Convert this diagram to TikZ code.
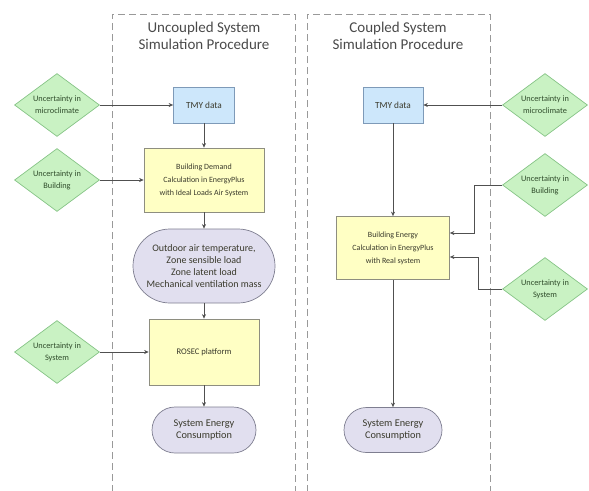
\documentclass[tikz,border=0pt]{standalone}
\usepackage{fontspec}
\setmainfont{Carlito}
\usetikzlibrary{shapes.geometric,arrows.meta}
\definecolor{dfill}{HTML}{C9F2C3}
\definecolor{ddraw}{HTML}{86C486}
\definecolor{dtxt}{HTML}{304D2C}
\definecolor{yfill}{HTML}{FFFFC4}
\definecolor{ydraw}{HTML}{8E8E80}
\definecolor{bfill}{HTML}{CDE7FB}
\definecolor{bdraw}{HTML}{7E9AB8}
\definecolor{ofill}{HTML}{E1DFEF}
\definecolor{odraw}{HTML}{7E7E90}
\definecolor{ltxt}{HTML}{3A3A2C}
\definecolor{ttxt}{HTML}{4A4A4A}
\definecolor{lcol}{HTML}{505050}
\tikzset{
  x=1pt, y=-1pt,
  dashbox/.style={draw=gray!80, line width=0.9pt, dash pattern=on 7pt off 4pt},
  titletext/.style={font=\fontsize{15}{17}\selectfont, text=ttxt, align=center},
  diam/.style={diamond, draw=ddraw, fill=dfill, line width=0.7pt, inner sep=0pt, minimum width=85pt, minimum height=63pt},
  dtext/.style={font=\fontsize{8.3}{12}\selectfont, text=dtxt, align=center, inner sep=0pt},
  ybox/.style={rectangle, draw=ydraw, fill=yfill, line width=0.7pt, font=\fontsize{8}{13}\selectfont, text=ltxt, align=center, inner sep=0pt},
  bbox/.style={rectangle, draw=bdraw, fill=bfill, line width=0.7pt, font=\fontsize{9.3}{10}\selectfont, text=ltxt, align=center, inner sep=0pt, minimum width=61pt, minimum height=36pt},
  oval/.style={rectangle, draw=odraw, fill=ofill, line width=0.7pt, text=ltxt, align=center, inner sep=0pt},
  conn/.style={draw=lcol, line width=0.7pt, -{Stealth[length=4.5pt,width=4pt]}},
}
\begin{document}
\begin{tikzpicture}
\useasboundingbox (0,0) rectangle (589,490);
% swimlanes
\draw[dashbox] (112,492) -- (112,14) -- (295,14) -- (295,492);
\draw[dashbox] (307,492) -- (307,14) -- (490,14) -- (490,492);
\node[titletext] (tl) at (204,36) {Uncoupled System\\Simulation Procedure};
\node[titletext] (tr) at (398,36) {Coupled System\\Simulation Procedure};

% left column
\node[bbox] (tmyL) at (204,105) {TMY data};
\node[ybox, minimum width=120pt, minimum height=64pt] (bdL) at (204,180) {Building Demand\\Calculation in EnergyPlus\\with Ideal Loads Air System};
\node[oval, minimum width=142pt, minimum height=74pt, rounded corners=37pt, font=\fontsize{10}{12}\selectfont] (ovL) at (204,266) {Outdoor air temperature,\\Zone sensible load\\Zone latent load\\Mechanical ventilation mass};
\node[ybox, minimum width=110pt, minimum height=66pt, font=\fontsize{8.6}{9}\selectfont] (roL) at (204,352) {ROSEC platform};
\node[oval, minimum width=104pt, minimum height=46pt, rounded corners=23pt, font=\fontsize{10.3}{12.5}\selectfont] (secL) at (204,430) {System Energy\\Consumption};

\node[diam] (dmL) at (57,105) {};
\node[dtext] at (dmL.center) {Uncertainty in\\microclimate};
\node[diam] (dbL) at (57,180) {};
\node[dtext] at (dbL.center) {Uncertainty in\\Building};
\node[diam] (dsL) at (57,352) {};
\node[dtext] at (dsL.center) {Uncertainty in\\System};

\draw[conn] (dmL.east) -- (tmyL.west);
\draw[conn] (dbL.east) -- (bdL.west);
\draw[conn] (dsL.east) -- (roL.west);
\draw[conn] (tmyL.south) -- (bdL.north);
\draw[conn] (bdL.south) -- (ovL.north);
\draw[conn] (ovL.south) -- (roL.north);
\draw[conn] (roL.south) -- (secL.north);

% right column
\node[bbox, minimum width=60pt] (tmyR) at (393,105) {TMY data};
\node[ybox, minimum width=113pt, minimum height=63pt] (beR) at (393,248) {Building Energy\\Calculation in EnergyPlus\\with Real system};
\node[oval, minimum width=98pt, minimum height=45pt, rounded corners=22.5pt, font=\fontsize{10.3}{12.5}\selectfont] (secR) at (393,430) {System Energy\\Consumption};

\node[diam] (dmR) at (545,105) {};
\node[dtext] at (dmR.center) {Uncertainty in\\microclimate};
\node[diam] (dbR) at (545,185) {};
\node[dtext] at (dbR.center) {Uncertainty in\\Building};
\node[diam] (dsR) at (545,289) {};
\node[dtext] at (dsR.center) {Uncertainty in\\System};

\draw[conn] (dmR.west) -- (tmyR.east);
\draw[conn] (tmyR.south) -- (beR.north);
\draw[conn] (beR.south) -- (secR.north);
\draw[conn] (dbR.west) -- ++(-28,0) |- ([yshift=15pt]beR.east);
\draw[conn] (dsR.west) -- ++(-24,0) |- ([yshift=-9pt]beR.east);
\end{tikzpicture}
\end{document}
